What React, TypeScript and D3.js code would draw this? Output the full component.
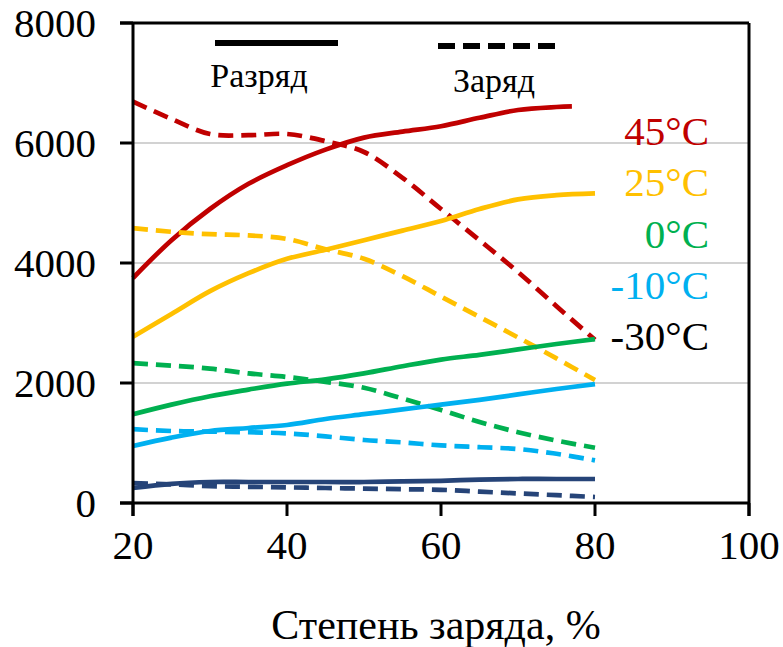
import * as d3 from "d3";

const soc = [20, 25, 30, 35, 40, 45, 50, 55, 60, 65, 70, 75, 80];
const socShort = [20, 25, 30, 35, 40, 45, 50, 55, 60, 65, 70, 75, 77];

const dis45 = [3750, 4380, 4900, 5320, 5630, 5890, 6090, 6190, 6280, 6420, 6550, 6600, 6610];
const chg45 = [6690, 6400, 6150, 6130, 6150, 6030, 5850, 5420, 4900, 4380, 3850, 3280, 2720];
const dis25 = [2770, 3150, 3530, 3830, 4070, 4220, 4380, 4540, 4700, 4900, 5060, 5130, 5160];
const chg25 = [4580, 4520, 4480, 4460, 4400, 4230, 4070, 3780, 3440, 3100, 2760, 2410, 2050];
const dis0 = [1480, 1640, 1780, 1890, 1990, 2060, 2160, 2280, 2390, 2470, 2560, 2650, 2730];
const chg0 = [2330, 2290, 2240, 2160, 2100, 2020, 1920, 1740, 1550, 1350, 1180, 1040, 920];
const dis10 = [950, 1090, 1200, 1250, 1300, 1400, 1480, 1560, 1640, 1720, 1810, 1900, 1980];
const chg10 = [1230, 1200, 1190, 1180, 1160, 1110, 1050, 1010, 960, 930, 900, 820, 710];
const dis30 = [250, 320, 350, 350, 350, 350, 350, 360, 370, 390, 400, 400, 400];
const chg30 = [330, 310, 280, 270, 260, 250, 240, 230, 220, 190, 160, 130, 100];

const xTicks = [20, 40, 60, 80, 100];
const yTicks = [0, 2000, 4000, 6000, 8000];
const gridTicks = [2000, 4000, 6000];

const tempLabels = ["45°C", "25°C", "0°C", "-10°C", "-30°C"];
const tempColors = ["#C00000", "#FFC000", "#00B050", "#00B0F0", "#000000"];

const FONT = "'Liberation Serif', 'Times New Roman', serif";

const W = 783;
const H = 647;
const L = 133;
const R = 749;
const T = 23;
const B = 503;

const series = [
  { xs: socShort, ys: dis45, color: "#C00000", dash: false },
  { xs: soc, ys: chg45, color: "#C00000", dash: true },
  { xs: soc, ys: dis25, color: "#FFC000", dash: false },
  { xs: soc, ys: chg25, color: "#FFC000", dash: true },
  { xs: soc, ys: dis0, color: "#00B050", dash: false },
  { xs: soc, ys: chg0, color: "#00B050", dash: true },
  { xs: soc, ys: dis10, color: "#00B0F0", dash: false },
  { xs: soc, ys: chg10, color: "#00B0F0", dash: true },
  { xs: soc, ys: dis30, color: "#264478", dash: false },
  { xs: soc, ys: chg30, color: "#264478", dash: true },
];

export default function App() {
  const x = d3.scaleLinear().domain([20, 100]).range([L, R]);
  const y = d3.scaleLinear().domain([0, 8000]).range([B, T]);

  const line = d3
    .line<[number, number]>()
    .x((d) => x(d[0]))
    .y((d) => y(d[1]))
    .curve(d3.curveCatmullRom.alpha(0.5));

  return (
    <svg
      width={W}
      height={H}
      style={{ position: "absolute", left: 0, top: 0, background: "#fff" }}
      fontFamily={FONT}
    >
      {/* grid */}
      {gridTicks.map((t) => (
        <line key={t} x1={L} x2={R} y1={y(t)} y2={y(t)} stroke="#a6a6a6" strokeWidth={1.2} />
      ))}

      {/* series */}
      {series.map((s, i) => (
        <path
          key={i}
          d={line(s.xs.map((v, j) => [v, s.ys[j]] as [number, number])) ?? ""}
          fill="none"
          stroke={s.color}
          strokeWidth={4.7}
          strokeDasharray={s.dash ? "15 8" : undefined}
          strokeLinecap="butt"
        />
      ))}

      {/* frame */}
      <line x1={L - 13} x2={R} y1={T} y2={T} stroke="#000" strokeWidth={3} />
      <line x1={R} x2={R} y1={T} y2={B + 13} stroke="#000" strokeWidth={3} />
      <line x1={L} x2={L} y1={T} y2={B + 13} stroke="#000" strokeWidth={3} />
      <line x1={L - 13} x2={R} y1={B} y2={B} stroke="#000" strokeWidth={3} />

      {/* y ticks */}
      {yTicks.map((t) => (
        <g key={t}>
          <line x1={L - 13} x2={L} y1={y(t)} y2={y(t)} stroke="#000" strokeWidth={3} />
          <text x={L - 37} y={y(t) + 14} textAnchor="end" fontSize={41} fill="#000">
            {t}
          </text>
        </g>
      ))}

      {/* x ticks */}
      {xTicks.map((t) => (
        <g key={t}>
          <line x1={x(t)} x2={x(t)} y1={B} y2={B + 13} stroke="#000" strokeWidth={3} />
          <text x={x(t)} y={B + 56} textAnchor="middle" fontSize={41} fill="#000">
            {t}
          </text>
        </g>
      ))}

      <text x={(L + R) / 2 - 5} y={639} textAnchor="middle" fontSize={42} fill="#000">
        Степень заряда, %
      </text>

      {/* legend */}
      <line x1={215} x2={338} y1={43} y2={43} stroke="#000" strokeWidth={6} />
      <text x={259} y={87} textAnchor="middle" fontSize={34} fill="#000">
        Разряд
      </text>
      <line x1={438} x2={560} y1={46} y2={46} stroke="#000" strokeWidth={6} strokeDasharray="17 8" />
      <text x={494} y={92} textAnchor="middle" fontSize={34} fill="#000">
        Заряд
      </text>

      {/* temperature labels */}
      {tempLabels.map((t, i) => (
        <text key={t} x={709} y={145 + i * 51.3} textAnchor="end" fontSize={41} fill={tempColors[i]}>
          {t}
        </text>
      ))}
    </svg>
  );
}
